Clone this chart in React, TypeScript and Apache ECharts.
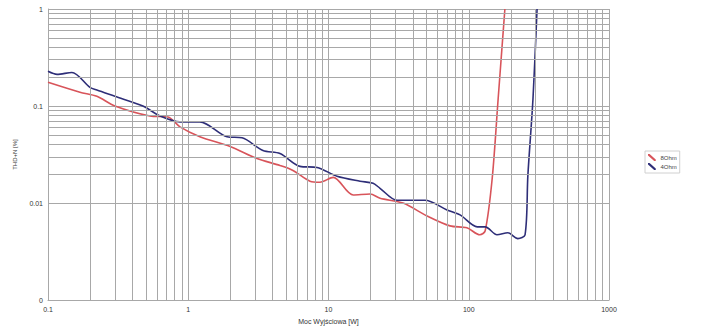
import React, { useEffect, useRef } from "react";
import * as echarts from "echarts";

// Output power [W] and THD+N [%]
const power4 = [0.1, 0.116, 0.148, 0.199, 0.223, 0.3, 0.475, 0.63, 0.873, 1.21, 1.89, 2.42, 3.41, 4.51, 6.26, 8.28, 11.5, 16.8, 20.8, 23.3, 30.8, 48.7, 70, 86.7, 115, 131, 159, 190, 224, 252, 264, 287, 307];
const thd4 = [0.228, 0.212, 0.222, 0.156, 0.146, 0.126, 0.1, 0.079, 0.0687, 0.0687, 0.0483, 0.0471, 0.0348, 0.0324, 0.0239, 0.0233, 0.0189, 0.0168, 0.016, 0.0142, 0.0107, 0.0107, 0.0085, 0.00755, 0.00569, 0.00569, 0.00471, 0.00494, 0.0043, 0.00471, 0.0193, 0.118, 1.0];

const power8 = [0.1, 0.169, 0.223, 0.3, 0.533, 0.717, 0.873, 1.21, 1.99, 3.09, 4.51, 5.58, 7.38, 8.69, 10.8, 15, 19.8, 23.3, 34, 50.4, 73.5, 97, 120, 131, 147, 162, 181];
const thd8 = [0.176, 0.139, 0.126, 0.1, 0.079, 0.0772, 0.061, 0.0483, 0.0382, 0.0288, 0.0244, 0.0217, 0.0168, 0.0164, 0.0184, 0.0121, 0.0124, 0.0112, 0.01, 0.00737, 0.00582, 0.00556, 0.00471, 0.00518, 0.018, 0.118, 1.0];

const seriesNames = ["8Ohm", "4Ohm"];
const xTickLabels = ["0.1", "1", "10", "100", "1000"];
const yTickLabels = ["0", "0.01", "0.1", "1"];

// minor grid positions (2..9 in each decade)
const xMinor = [0.2, 0.3, 0.4, 0.5, 0.6, 0.7, 0.8, 0.9, 2, 3, 4, 5, 6, 7, 8, 9, 20, 30, 40, 50, 60, 70, 80, 90, 200, 300, 400, 500, 600, 700, 800, 900];
const yMinor = [0.002, 0.003, 0.004, 0.005, 0.006, 0.007, 0.008, 0.009, 0.02, 0.03, 0.04, 0.05, 0.06, 0.07, 0.08, 0.09, 0.2, 0.3, 0.4, 0.5, 0.6, 0.7, 0.8, 0.9];

const zip = (xs: number[], ys: number[]) => xs.map((x, i) => [x, ys[i]]);

export default function App() {
  const ref = useRef<HTMLDivElement>(null);
  useEffect(() => {
    if (!ref.current) return;
    const chart = echarts.init(ref.current, null, { renderer: "svg" });
    const gridColor = "#a8a8a8";
    const font = "Liberation Sans";
    chart.setOption({
      animation: false,
      backgroundColor: "#ffffff",
      grid: { left: 48, right: 96, top: 9, bottom: 27, containLabel: false },
      legend: {
        data: seriesNames,
        orient: "vertical",
        left: 645,
        top: 151,
        padding: [3, 3, 3, 3],
        itemGap: 2,
        itemWidth: 11,
        itemHeight: 7,
        borderColor: "#d0d0d0",
        borderWidth: 1,
        icon: "path://M0,0 L2,0 L10,7 L10,9 L8,9 L0,2 Z",
        textStyle: { fontFamily: font, fontSize: 6, color: "#444", padding: [0, 0, 0, -2] },
      },
      xAxis: {
        type: "log",
        logBase: 10,
        min: 0.1,
        max: 1000,
        name: "Moc Wyjściowa [W]",
        nameLocation: "middle",
        nameGap: 15,
        nameTextStyle: { fontFamily: font, fontSize: 7, color: "#333" },
        axisLine: { show: true, lineStyle: { color: gridColor, width: 1 } },
        axisTick: { show: false },
        axisLabel: {
          fontFamily: font,
          fontSize: 7,
          color: "#333",
          margin: 6,
          formatter: (v: number) => {
            const i = Math.round(Math.log10(v) + 1);
            return xTickLabels[i] ?? String(v);
          },
        },
        splitLine: { show: true, lineStyle: { color: gridColor, width: 1 } },
      },
      yAxis: {
        type: "log",
        logBase: 10,
        min: 0.001,
        max: 1,
        name: "THD+N [%]",
        nameLocation: "middle",
        nameRotate: 90,
        nameGap: 28,
        nameTextStyle: { fontFamily: font, fontSize: 6, color: "#333" },
        axisLine: { show: true, lineStyle: { color: gridColor, width: 1 } },
        axisTick: { show: false },
        axisLabel: {
          fontFamily: font,
          fontSize: 7,
          color: "#333",
          margin: 5,
          formatter: (v: number) => {
            const i = Math.round(Math.log10(v) + 3);
            return yTickLabels[i] ?? String(v);
          },
        },
        splitLine: { show: true, lineStyle: { color: gridColor, width: 1 } },
      },
      series: [
        {
          name: "grid",
          type: "line",
          data: [[1, 0.01]],
          showSymbol: false,
          symbol: "none",
          lineStyle: { opacity: 0 },
          silent: true,
          z: 1,
          markLine: {
            silent: true,
            symbol: ["none", "none"],
            label: { show: false },
            lineStyle: { color: gridColor, type: "solid", width: 1 },
            data: [
              ...xMinor.map((v) => ({ xAxis: v })),
              ...yMinor.map((v) => ({ yAxis: v })),
            ],
          },
        },
        {
          name: seriesNames[0],
          type: "line",
          data: zip(power8, thd8),
          smooth: 0.3,
          symbol: "none",
          color: "#d8545a",
          lineStyle: { color: "#d8545a", width: 1.6 },
          z: 3,
        },
        {
          name: seriesNames[1],
          type: "line",
          data: zip(power4, thd4),
          smooth: 0.3,
          symbol: "none",
          color: "#2e2e78",
          lineStyle: { color: "#2e2e78", width: 1.6 },
          z: 3,
        },
      ],
    });
    return () => chart.dispose();
  }, []);
  return <div ref={ref} style={{ width: 705, height: 330, position: "absolute", left: 0, top: 0 }} />;
}
